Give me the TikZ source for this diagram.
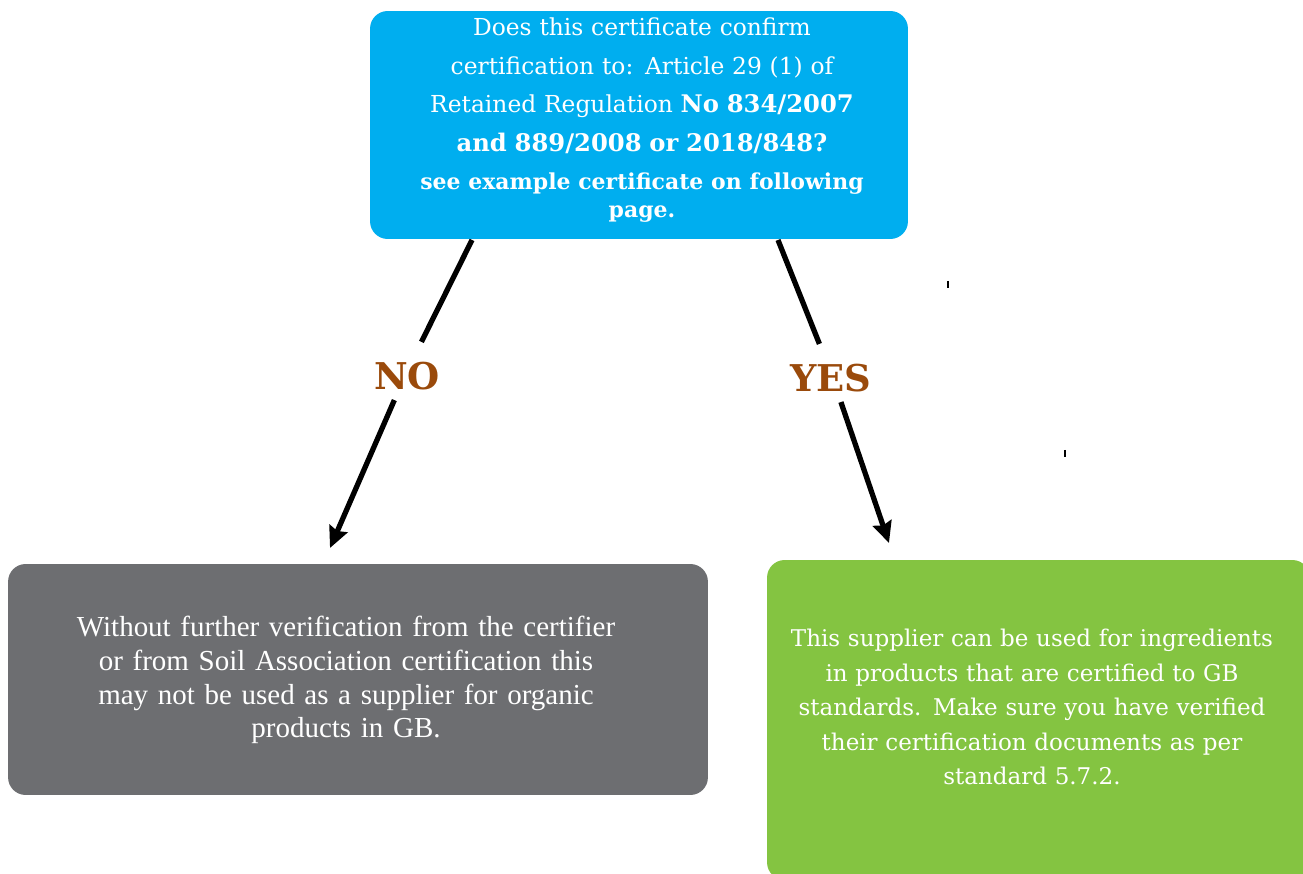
\documentclass[tikz,border=0pt]{standalone}
\usepackage{fontspec}
\setmainfont{DejaVu Serif}
\newfontfamily\narrowfont{Liberation Serif}
\usetikzlibrary{arrows.meta}
\definecolor{qblue}{HTML}{00AEEF}
\definecolor{nogrey}{HTML}{6D6E71}
\definecolor{yesgreen}{HTML}{84C441}
\definecolor{answerbrown}{HTML}{9A4A0B}
\newcommand\regno[1]{{\fontsize{13.8}{22}\selectfont\bfseries #1}}
\tikzset{>={Stealth[length=12pt,width=11pt,inset=1.5pt]},
  box/.style={rectangle,rounded corners=10pt,inner sep=0pt},
  boxtext/.style={text=white,align=center,inner sep=0pt},
  answer/.style={font=\fontsize{21}{21}\selectfont\bfseries,text=answerbrown,inner sep=0pt,text height=27pt,text depth=5.7pt},
  flow/.style={line width=3pt,->},edge/.style={line width=3pt}}
\begin{document}
\begin{tikzpicture}[x=0.02cm,y=-0.02cm]
\useasboundingbox (0,0) rectangle (1303,874);
% question and the two outcomes
\node[box,fill=qblue,minimum width=10.76cm,minimum height=4.56cm] (question) at (639,125) {};
\node[boxtext,text width=10.4cm,font=\fontsize{13.3}{22}\selectfont] (questiontxt) at (642,120)
  {Does this certificate confirm\\certification to: Article 29 (1) of\\Retained Regulation \regno{No 834/2007}\\\regno{and 889/2008 or 2018/848?}\par\vspace{5.5pt}
   {\fontsize{12.5}{16}\selectfont\bfseries see example certificate on following\\page.\par}};
\node[box,fill=nogrey,minimum width=14cm,minimum height=4.62cm] (reject) at (358,679.5) {};
\node[boxtext,text width=13cm,font=\narrowfont\fontsize{16.5}{19.3}\selectfont] (rejecttxt) at (346,680)
  {Without further verification from the certifier\\or from Soil Association certification this\\may not be used as a supplier for organic\\products in GB.};
\node[box,fill=yesgreen,minimum width=10.86cm,minimum height=6.4cm] (accept) at (1038.5,720) {};
\node[boxtext,text width=10cm,font=\fontsize{13.1}{19.6}\selectfont] (accepttxt) at (1032,707)
  {This supplier can be used for ingredients\\in products that are certified to GB\\standards. Make sure you have verified\\their certification documents as per\\standard 5.7.2.};
% answers
\node[answer] (nolbl) at (407,371) {NO};
\node[answer] (yeslbl) at (831,373) {YES};
\coordinate (noTop) at (472,240);\coordinate (noEnd) at (330,548);
\coordinate (yesTop) at (778,240);\coordinate (yesEnd) at (889,543);
\draw[edge] (noTop)--(nolbl);\draw[flow] (nolbl)--(noEnd);
\draw[edge] (yesTop)--(yeslbl);\draw[flow] (yeslbl)--(yesEnd);
% stray ticks
\draw[line width=.8pt] (948,281)--(948,288);\draw[line width=.8pt] (1065,450)--(1065,457);
\end{tikzpicture}
\end{document}
